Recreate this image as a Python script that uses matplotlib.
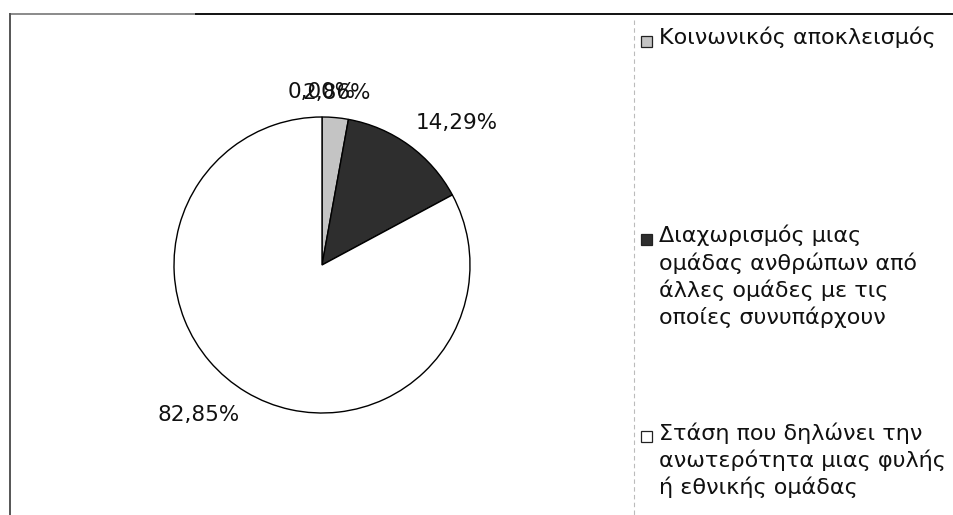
import numpy as np
import matplotlib
matplotlib.use("Agg")
import matplotlib.pyplot as plt
from matplotlib.patches import Rectangle
from matplotlib.lines import Line2D

plt.rcParams['font.family'] = ['DejaVu Sans']

# data (slice order clockwise from 12 o'clock)
shares = [0.00, 2.86, 14.29, 82.85]
slice_colors = ['#9a9a9a', '#c4c4c4', '#2e2e2e', '#ffffff']

# legend entries (the 0% one is cut off in the original)
legend_labels = ['Κοινωνικός αποκλεισμός',
                 'Διαχωρισμός μιας\nομάδας ανθρώπων από\nάλλες ομάδες με τις\nοποίες συνυπάρχουν',
                 'Στάση που δηλώνει την\nανωτερότητα μιας φυλής\nή εθνικής ομάδας']
legend_colors = ['#c4c4c4', '#2e2e2e', '#ffffff']

W, H = 954, 515
fig = plt.figure(figsize=(W / 100, H / 100), dpi=100)

# pie axes: center (322, 265), radius 148 px
cx, cy, R = 322, 265, 148
ax = fig.add_axes([(cx - R) / W, (H - cy - R) / H, 2 * R / W, 2 * R / H])
wedges, _ = ax.pie(shares, colors=slice_colors, startangle=90, counterclock=False,
                   wedgeprops=dict(edgecolor='black', linewidth=1.0))
ax.set_xlim(-1, 1)
ax.set_ylim(-1, 1)
ax.axis('off')

# percentage labels just outside each wedge
for w, v in zip(wedges, shares):
    mid = np.deg2rad((w.theta1 + w.theta2) / 2)
    x, y = 1.08 * np.cos(mid), 1.1 * np.sin(mid)
    if abs(x) < 0.2:
        ha = 'center'
    else:
        ha = 'left' if x > 0 else 'right'
    va = 'bottom' if y > 0 else 'top'
    ax.text(x, y, f'{v:.2f}%'.replace('.', ','), ha=ha, va=va, fontsize=15.5,
            color='#111111', clip_on=False)

# frame lines
fig.add_artist(Line2D([10 / W, 196 / W], [1 - 14 / H] * 2, color='#777777', lw=1.2))
fig.add_artist(Line2D([196 / W, 1.0], [1 - 14 / H] * 2, color='#111111', lw=1.4))
fig.add_artist(Line2D([10 / W] * 2, [1 - 14 / H, 0], color='#555555', lw=1.4))
fig.add_artist(Line2D([634 / W] * 2, [1 - 20 / H, 0], color='#bbbbbb', lw=0.8,
                      linestyle=(0, (4, 3))))

# legend
entry_centers = [41, 239, 436]
for lab, col, yc in zip(legend_labels, legend_colors, entry_centers):
    fig.add_artist(Rectangle((641 / W, 1 - (yc + 6) / H), 11 / W, 11 / H,
                             facecolor=col, edgecolor='#222222', lw=0.9))
    fig.text(659 / W, 1 - (yc - 14) / H, lab, ha='left', va='top', fontsize=16,
             color='#111111', linespacing=1.33)

fig.savefig('out.png', dpi=100, facecolor='white')
